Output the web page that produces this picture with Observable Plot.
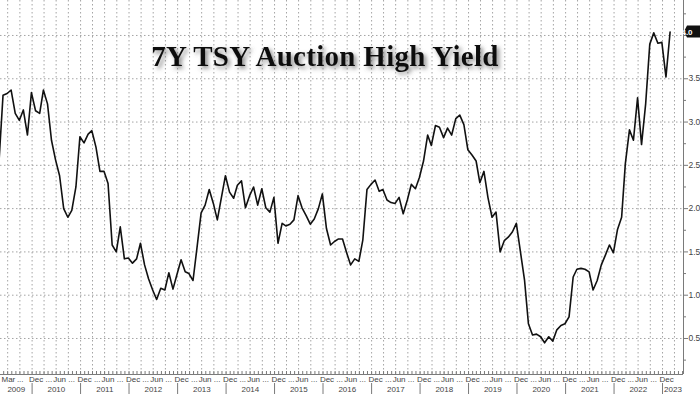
<!DOCTYPE html>
<html>
<head>
<meta charset="utf-8">
<script src="https://cdn.jsdelivr.net/npm/d3@7"></script>
<script src="https://cdn.jsdelivr.net/npm/@observablehq/plot@0.6"></script>
<style>
  html, body { margin: 0; padding: 0; background: #ffffff; }
  #chart { width: 700px; height: 394px; overflow: hidden; }
</style>
</head>
<body>
<div id="chart"></div>
<script>
// ---- data: 7-year Treasury auction high yield (%), monthly ----
const title = "7Y TSY Auction High Yield";
const y2009 = [2.55, 3.31, 3.33, 3.37, 3.10, 3.02, 3.14, 2.85, 3.34]; // Apr–Dec
const y2010 = [3.13, 3.10, 3.37, 3.21, 2.79, 2.56, 2.38, 2.00, 1.90, 1.98, 2.25, 2.83];
const y2011 = [2.76, 2.86, 2.90, 2.71, 2.43, 2.43, 2.29, 1.58, 1.50, 1.79, 1.42, 1.43];
const y2012 = [1.37, 1.42, 1.60, 1.35, 1.19, 1.06, 0.95, 1.08, 1.06, 1.26, 1.07, 1.24];
const y2013 = [1.41, 1.27, 1.25, 1.17, 1.55, 1.95, 2.04, 2.22, 2.06, 1.87, 2.13, 2.38];
const y2014 = [2.19, 2.12, 2.27, 2.32, 2.01, 2.15, 2.25, 2.04, 2.23, 2.01, 1.96, 2.13];
const y2015 = [1.60, 1.83, 1.80, 1.82, 1.87, 2.15, 2.01, 1.92, 1.82, 1.88, 2.00, 2.17];
const y2016 = [1.77, 1.58, 1.62, 1.65, 1.65, 1.49, 1.35, 1.42, 1.39, 1.64, 2.22, 2.28];
const y2017 = [2.33, 2.20, 2.22, 2.10, 2.07, 2.06, 2.13, 1.94, 2.10, 2.28, 2.23, 2.36];
const y2018 = [2.55, 2.85, 2.73, 2.96, 2.94, 2.82, 2.93, 2.85, 3.04, 3.08, 2.97, 2.68];
const y2019 = [2.62, 2.55, 2.30, 2.43, 2.13, 1.90, 1.96, 1.50, 1.63, 1.67, 1.73, 1.83];
const y2020 = [1.50, 1.17, 0.67, 0.54, 0.55, 0.52, 0.45, 0.52, 0.47, 0.60, 0.65, 0.67];
const y2021 = [0.75, 1.21, 1.30, 1.31, 1.30, 1.27, 1.06, 1.17, 1.35, 1.46, 1.58, 1.49];
const y2022 = [1.76, 1.90, 2.52, 2.91, 2.79, 3.28, 2.74, 3.21, 3.90, 4.03, 3.91, 3.92];
const y2023 = [3.52, 4.04]; // Jan–Feb

// series: [year, first month (1-12), values]
const seriesByYear = [
  [2009, 4, y2009], [2010, 1, y2010], [2011, 1, y2011], [2012, 1, y2012],
  [2013, 1, y2013], [2014, 1, y2014], [2015, 1, y2015], [2016, 1, y2016],
  [2017, 1, y2017], [2018, 1, y2018], [2019, 1, y2019], [2020, 1, y2020],
  [2021, 1, y2021], [2022, 1, y2022], [2023, 1, y2023]
];

// axis labels
const yTickValues = [0.5, 1.0, 1.5, 2.0, 2.5, 3.0, 3.5, 4.0];
const yMinorTicks = [0.25, 0.75, 1.25, 1.75, 2.25, 2.75, 3.25, 3.75, 4.25];
const yearLabels = ["2009","2010","2011","2012","2013","2014","2015","2016","2017","2018","2019","2020","2021","2022","2023"];
const firstMonthLabels = [["2009-05-08", "Mar"], ["2009-09-01", "..."]];
const halfYearLabels = [["06", "Jun ..."], ["12", "Dec ..."]];
const lastMonthLabel = ["2022-12-01", "Dec"];

// ---- build table ----
const auctionDay = 27;
const data = seriesByYear.flatMap(([yr, m0, vals]) =>
  vals.map((v, i) => ({date: new Date(yr, m0 - 1 + i, auctionDay), value: v})));
const last = data[data.length - 1];

const xMin = new Date(2009, 4, 8);
const xMax = new Date(2023, 5, 8);
const parse = s => { const [a, b, c] = s.split("-").map(Number); return new Date(a, b - 1, c); };

const monthLabelMap = new Map();
for (const [d, t] of firstMonthLabels) monthLabelMap.set(+parse(d), t);
for (let yr = 2009; yr <= 2022; yr++) {
  for (const [m, t] of halfYearLabels) {
    const d = new Date(yr, +m - 1, 1);
    if (d > new Date(2009, 10, 1)) monthLabelMap.set(+d, t);
  }
}
monthLabelMap.set(+parse(lastMonthLabel[0]), lastMonthLabel[1]);
const monthLabelDates = [...monthLabelMap.keys()].map(t => new Date(t));

const yearStarts = yearLabels.slice(1).map(y => new Date(+y, 0, 1));
const yearCenterMap = new Map();
for (const y of yearLabels) {
  const a = new Date(Math.max(+new Date(+y, 0, 1), +xMin));
  const b = new Date(Math.min(+new Date(+y + 1, 0, 1), +xMax));
  yearCenterMap.set(+a + (b - a) / 2, y);
}
const yearCenters = [...yearCenterMap.keys()].map(t => new Date(t));

const monthTicks = d3.timeMonth.range(xMin, xMax);
const quarterTicks = d3.timeMonth.every(3).range(xMin, xMax);

const gridStyle = {stroke: "#9a9a9a", strokeOpacity: 1, strokeWidth: 0.9, strokeDasharray: "1.5,2.5"};
const axisColor = "#7a7a7a";
const fmt1 = d3.format(".1f");

const plot = Plot.plot({
  width: 700,
  height: 394,
  marginLeft: 0,
  marginRight: 17,
  marginTop: 0,
  marginBottom: 20,
  x: {type: "time", domain: [xMin, xMax]},
  y: {domain: [0.084, 4.404]},
  style: {fontFamily: "'Liberation Sans', Arial, sans-serif", fontSize: "8px", color: "#444", background: "#ffffff", overflow: "visible"},
  marks: [
    Plot.gridY(yTickValues, gridStyle),
    Plot.gridX(quarterTicks, gridStyle),
    Plot.ruleX([xMax], {stroke: axisColor, strokeWidth: 1}),
    Plot.ruleY([0.084], {stroke: axisColor, strokeWidth: 1}),
    Plot.axisY(yTickValues, {anchor: "right", tickSize: 4, tickPadding: 1, stroke: axisColor,
      tickFormat: d => Math.abs(d - last.value) < 0.1 ? "" : fmt1(d), fill: "#444", fontSize: 8.5, label: null}),
    Plot.axisY(yMinorTicks, {anchor: "right", tickSize: 2, stroke: axisColor, tickFormat: () => "", label: null}),
    Plot.axisX(monthTicks, {anchor: "bottom", tickSize: 3, dy: -3, stroke: axisColor, tickFormat: () => "", label: null}),
    Plot.axisX(monthLabelDates, {anchor: "bottom", tickSize: 0, tickPadding: 2, textAnchor: "start", dx: 1, tickFormat: d => monthLabelMap.get(+d), fill: "#444", label: null}),
    Plot.axisX(yearCenters, {anchor: "bottom", tickSize: 0, tickPadding: 12, tickFormat: d => yearCenterMap.get(+d), fill: "#444", label: null}),
    Plot.axisX(yearStarts, {anchor: "bottom", tickSize: 11, dy: 9, stroke: axisColor, tickFormat: () => "", label: null}),
    Plot.line(data, {x: "date", y: "value", stroke: "#111", strokeWidth: 1.6, clip: true})
  ]
});

document.getElementById("chart").appendChild(plot);

// ---- title with drop shadow ----
const svg = d3.select(plot);
const defs = svg.append("defs");
const f = defs.append("filter").attr("id", "shadow").attr("x", "-10%").attr("y", "-30%").attr("width", "130%").attr("height", "170%");
f.append("feDropShadow").attr("dx", 2.5).attr("dy", 2.5).attr("stdDeviation", 2).attr("flood-color", "#555").attr("flood-opacity", 0.7);

svg.append("text")
  .attr("x", 325).attr("y", 66)
  .attr("text-anchor", "middle")
  .attr("font-family", "'Liberation Serif', 'Times New Roman', serif")
  .attr("font-weight", "bold")
  .attr("font-size", 29)
  .attr("letter-spacing", 0.3)
  .attr("fill", "#111")
  .attr("filter", "url(#shadow)")
  .text(title);

// ---- last value badge ----
const yPos = plot.scale("y").apply(last.value);
const xEdge = plot.scale("x").range[1];
const badge = svg.append("g");
badge.append("path")
  .attr("d", `M${xEdge + 1},${yPos} l3,-6 h14 v12 h-14 z`)
  .attr("fill", "#111");
badge.append("text")
  .attr("x", xEdge + 4).attr("y", yPos + 3)
  .attr("font-family", "'Liberation Sans', Arial, sans-serif")
  .attr("font-size", 8).attr("font-weight", "bold")
  .attr("fill", "#ffffff")
  .text(fmt1(last.value));
</script>
</body>
</html>
